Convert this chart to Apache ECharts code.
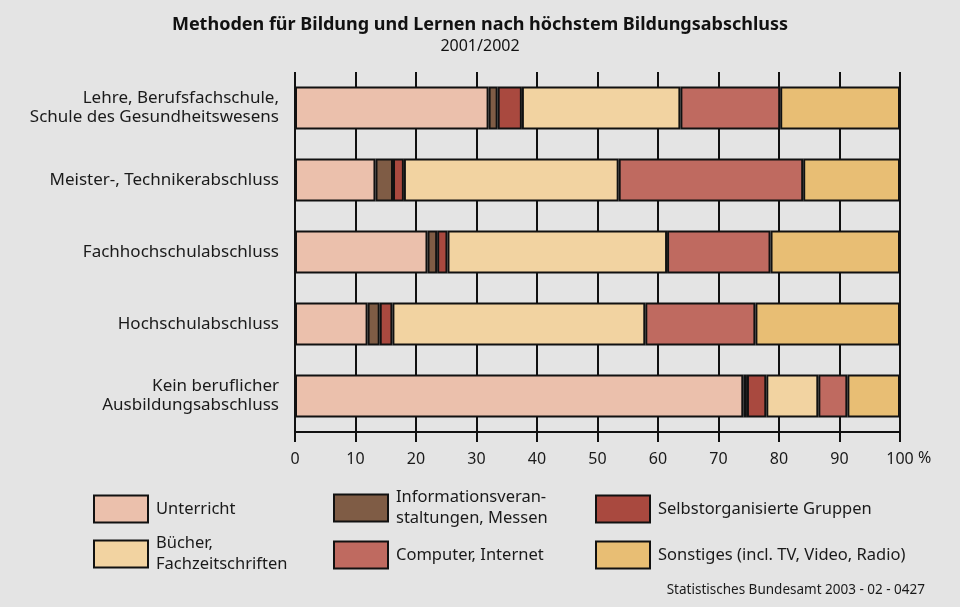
<!DOCTYPE html>
<html>
<head>
<meta charset="utf-8">
<script src="https://cdn.jsdelivr.net/npm/echarts@6/dist/echarts.min.js"></script>
<style>
    html, body { margin: 0; padding: 0; background: #e4e4e4; }
    #chartMain { width: 960px; height: 607px; }
</style>
</head>
<body>
<div id="chartMain"></div>
<script>
// Kategorien (von oben nach unten)
const categories = [
    'Lehre, Berufsfachschule,\nSchule des Gesundheitswesens',
    'Meister-, Technikerabschluss',
    'Fachhochschulabschluss',
    'Hochschulabschluss',
    'Kein beruflicher\nAusbildungsabschluss',
]
const seriesNames = [
    'Unterricht',
    'Informationsveran-\nstaltungen, Messen',
    'Selbstorganisierte Gruppen',
    'Bücher,\nFachzeitschriften',
    'Computer, Internet',
    'Sonstiges (incl. TV, Video, Radio)',
]
// Werte in %
const unterricht = [32.0, 13.3, 21.9, 12.0, 74.1]
const information = [1.5, 2.9, 1.6, 2.0, 0.6]
const selbstorg = [4.0, 1.8, 1.7, 2.1, 3.2]
const buecher = [26.2, 35.5, 36.3, 41.8, 8.6]
const computer = [16.5, 30.5, 17.1, 18.2, 4.8]
const sonstiges = [19.8, 16.0, 21.4, 23.9, 8.7]
const xTicks = [0, 10, 20, 30, 40, 50, 60, 70, 80, 90, 100]

const colors = ['#EBC0AC', '#7F5C45', '#A9493F', '#F2D3A1', '#BF6A60', '#E8BE74']
const values = [unterricht, information, selbstorg, buecher, computer, sonstiges]

const fontFamily = 'Noto Sans'
const chart = echarts.init(document.getElementById('chartMain'))

// Legende: 3 Spalten x 2 Zeilen, Mitte der Kästchen bei y = 508 / 554
const legendPos = [
    [93, 508], [333, 508], [595, 508],
    [93, 554], [333, 554], [595, 554],
]
const legendLineHeight = 21
const legends = seriesNames.map((name, i) => {
    const lines = name.split('\n').length
    const boxH = Math.max(27, lines * legendLineHeight)
    return {
        data: [name],
        left: legendPos[i][0],
        top: legendPos[i][1] - boxH / 2,
        padding: 0,
        itemWidth: 54,
        itemHeight: 27,
        icon: 'rect',
        selectedMode: false,
        itemStyle: { borderColor: '#111', borderWidth: 2 },
        textStyle: {
            fontFamily,
            fontSize: 16.5,
            color: '#1a1a1a',
            lineHeight: legendLineHeight,
            padding: [0, 0, 0, 3],
        },
    }
})

const option = {
    backgroundColor: '#e4e4e4',
    animation: false,
    title: {
        text: 'Methoden für Bildung und Lernen nach höchstem Bildungsabschluss',
        subtext: '2001/2002',
        left: 'center',
        top: 11,
        itemGap: 4,
        textStyle: { fontFamily, fontSize: 18, fontWeight: 'bold', color: '#111' },
        subtextStyle: { fontFamily, fontSize: 16, color: '#111' },
    },
    legend: legends,
    grid: {
        left: 295,
        right: 60,
        top: 72,
        bottom: 175,
    },
    xAxis: {
        type: 'value',
        min: 0,
        max: 100,
        interval: 10,
        axisLine: { show: true, lineStyle: { color: '#111', width: 2 } },
        axisTick: { show: true, length: 10, lineStyle: { color: '#111', width: 2 } },
        splitLine: { show: true, lineStyle: { color: '#111', width: 2 } },
        axisLabel: {
            margin: 19,
            fontFamily,
            fontSize: 16,
            color: '#1a1a1a',
            formatter: (v) => (xTicks.indexOf(v) >= 0 ? String(v) : ''),
        },
    },
    yAxis: {
        type: 'category',
        inverse: true,
        data: categories,
        axisLine: { show: false },
        axisTick: { show: false },
        axisLabel: {
            margin: 16,
            fontFamily,
            fontSize: 17,
            lineHeight: 19,
            color: '#1a1a1a',
            align: 'right',
        },
    },
    series: values.map((d, i) => ({
        name: seriesNames[i],
        type: 'bar',
        stack: 'total',
        barWidth: 43,
        data: d,
        itemStyle: { color: colors[i], borderColor: '#111', borderWidth: 2 },
    })),
    graphic: [
        {
            type: 'text',
            left: 918,
            top: 450,
            style: { text: '%', font: '16px "Noto Sans"', fill: '#1a1a1a' },
        },
        {
            type: 'text',
            right: 35,
            top: 583,
            style: { text: 'Statistisches Bundesamt 2003 - 02 - 0427', font: '13.5px "Noto Sans"', fill: '#1a1a1a' },
        },
    ],
}
option && chart.setOption(option)
</script>
</body>
</html>
